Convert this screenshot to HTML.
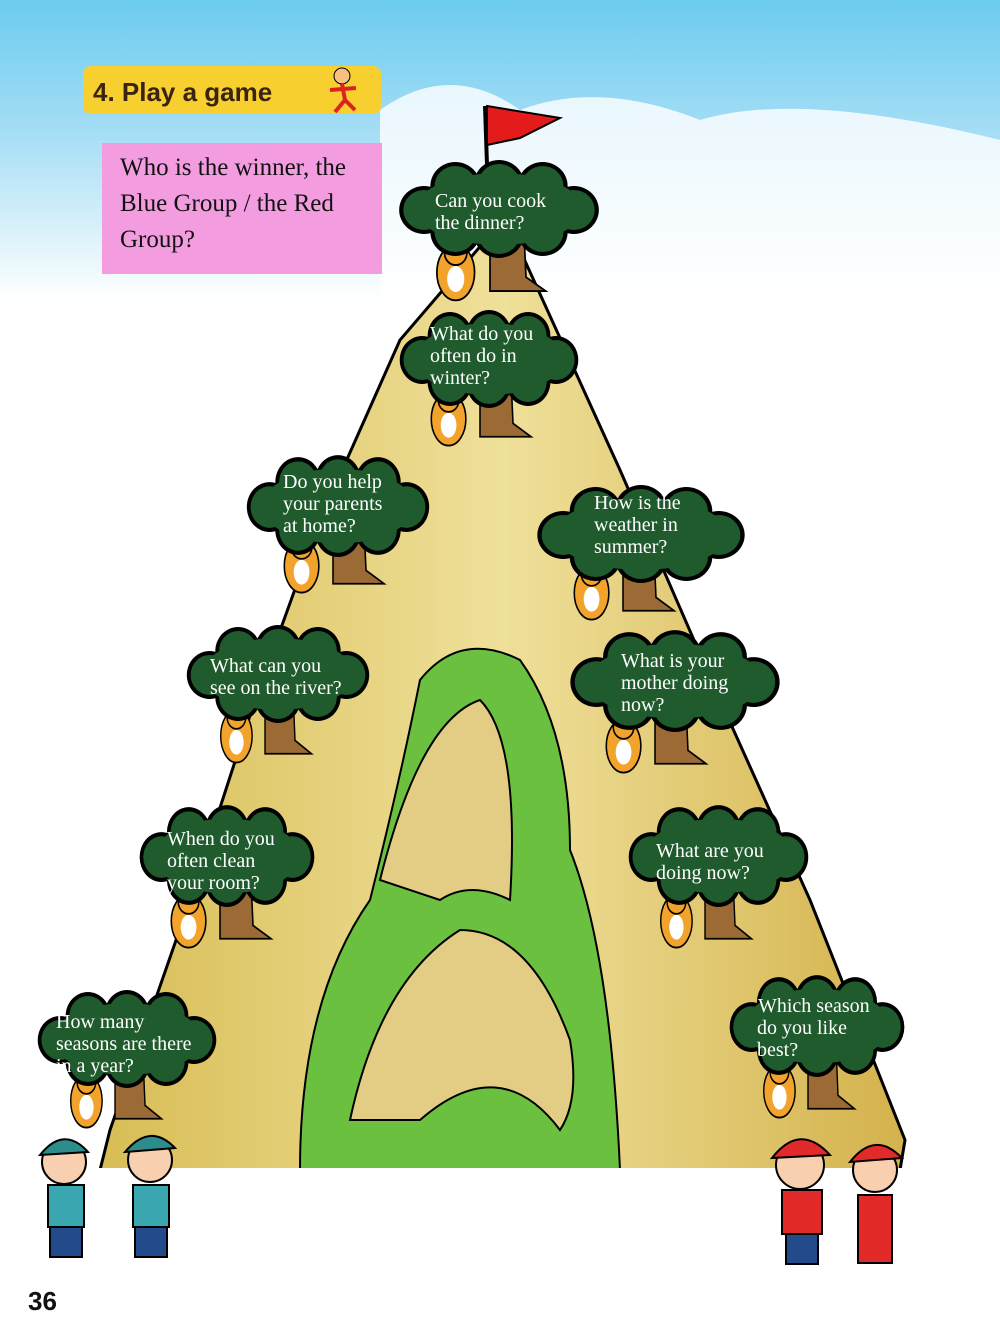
<!DOCTYPE html>
<html><head><meta charset="utf-8"><style>
body{margin:0;width:1000px;height:1336px;overflow:hidden;background:#fff;font-family:"Liberation Serif",serif}
svg{position:absolute;left:0;top:0}
.t{fill:#fff;font-family:"Liberation Serif",serif;font-size:20px}
</style></head><body>
<svg width="1000" height="1336" viewBox="0 0 1000 1336">
<defs>
<linearGradient id="sky" x1="0" y1="0" x2="0" y2="1">
<stop offset="0" stop-color="#6ccbef"/><stop offset="0.45" stop-color="#a6def5"/><stop offset="1" stop-color="#fff"/>
</linearGradient>
<linearGradient id="mt" x1="0" y1="0" x2="1" y2="0">
<stop offset="0" stop-color="#d8bd55"/><stop offset="0.5" stop-color="#efe09a"/><stop offset="1" stop-color="#d4b24c"/>
</linearGradient>
<symbol id="cl" viewBox="0 0 200 100" preserveAspectRatio="none">
<g fill="#000">
<circle cx="28" cy="52" r="24"/><circle cx="58" cy="28" r="24"/><circle cx="100" cy="26" r="24"/><circle cx="142" cy="28" r="24"/><circle cx="172" cy="52" r="24"/><circle cx="142" cy="74" r="24"/><circle cx="100" cy="76" r="24"/><circle cx="58" cy="74" r="24"/></g>
<g fill="#1f5b2c">
<circle cx="28" cy="52" r="20"/><circle cx="58" cy="28" r="20"/><circle cx="100" cy="26" r="20"/><circle cx="142" cy="28" r="20"/><circle cx="172" cy="52" r="20"/><circle cx="142" cy="74" r="20"/><circle cx="100" cy="76" r="20"/><circle cx="58" cy="74" r="20"/><ellipse cx="100" cy="51" rx="80" ry="36"/></g>
</symbol>
<symbol id="tg" viewBox="0 0 140 70" preserveAspectRatio="none">
<path d="M70 0 L110 0 L112 40 L135 55 L70 55 Z" fill="#9c6a35" stroke="#000" stroke-width="2"/>
<ellipse cx="30" cy="35" rx="22" ry="30" fill="#f2a32c" stroke="#000" stroke-width="2"/>
<ellipse cx="30" cy="42" rx="10" ry="14" fill="#fff"/>
<circle cx="30" cy="14" r="13" fill="#f2a32c" stroke="#000" stroke-width="2"/>
</symbol>
</defs>
<rect width="1000" height="300" fill="url(#sky)"/>
<path d="M380 110 Q450 60 520 110 Q600 80 700 120 Q800 90 1000 140 L1000 300 L380 300Z" fill="#fff" opacity="0.8"/>
<polygon points="490,235 520,250 620,470 720,700 810,900 905,1140 900,1170 100,1170 110,1130 190,900 255,700 320,520 400,340" fill="url(#mt)" stroke="#000" stroke-width="3"/>
<path d="M300 1170 Q300 1000 370 900 Q400 780 420 680 Q460 630 520 660 Q570 730 570 850 Q610 950 620 1170Z" fill="#6cc040" stroke="#000" stroke-width="2"/>
<path d="M380 880 Q420 720 480 700 Q520 740 510 900 Q470 880 440 900Z" fill="#e3cd84" stroke="#000" stroke-width="2"/>
<path d="M350 1120 Q380 980 460 930 Q530 930 570 1040 Q580 1100 560 1130 Q500 1050 420 1120Z" fill="#e3cd84" stroke="#000" stroke-width="2"/>
<rect x="95" y="1168" width="810" height="6" fill="#fff"/>
<rect x="83" y="66" width="298" height="48" rx="8" fill="#f7d030"/>
<text x="93" y="101" font-family="Liberation Sans" font-weight="bold" font-size="26" fill="#3a2410">4. Play a game</text>
<circle cx="342" cy="76" r="8" fill="#f6c080" stroke="#000"/><path d="M342 84 L345 100 L335 112 M345 100 L355 110 M330 90 L356 88" stroke="#d22" stroke-width="4" fill="none"/>
<rect x="102" y="143" width="280" height="131" fill="#f39ce0"/>
<text font-size="25" fill="#111"><tspan x="120" y="175">Who is the winner, the</tspan><tspan x="120" y="211">Blue Group / the Red</tspan><tspan x="120" y="247">Group?</tspan></text>
<line x1="485" y1="106" x2="487" y2="165" stroke="#000" stroke-width="4"/>
<path d="M487 106 L560 118 L520 138 L487 145Z" fill="#e31b1b" stroke="#000" stroke-width="2"/>
<use href="#tg" x="430" y="240" width="120" height="65"/>
<use href="#cl" x="395" y="158" width="208" height="100"/>
<text class="t"><tspan x="435" y="207">Can you cook</tspan><tspan x="435" y="229">the dinner?</tspan></text>
<use href="#tg" x="425" y="388" width="110" height="62"/>
<use href="#cl" x="396" y="308" width="186" height="100"/>
<text class="t"><tspan x="430" y="340">What do you</tspan><tspan x="430" y="362">often do in</tspan><tspan x="430" y="384">winter?</tspan></text>
<use href="#tg" x="278" y="535" width="110" height="62"/>
<use href="#cl" x="243" y="453" width="190" height="104"/>
<text class="t"><tspan x="283" y="488">Do you help</tspan><tspan x="283" y="510">your parents</tspan><tspan x="283" y="532">at home?</tspan></text>
<use href="#tg" x="568" y="562" width="110" height="62"/>
<use href="#cl" x="533" y="483" width="216" height="100"/>
<text class="t"><tspan x="594" y="509">How is the</tspan><tspan x="594" y="531">weather in</tspan><tspan x="594" y="553">summer?</tspan></text>
<use href="#tg" x="215" y="705" width="100" height="62"/>
<use href="#cl" x="183" y="623" width="190" height="100"/>
<text class="t"><tspan x="210" y="672">What can you</tspan><tspan x="210" y="694">see on the river?</tspan></text>
<use href="#tg" x="600" y="715" width="110" height="62"/>
<use href="#cl" x="566" y="628" width="218" height="104"/>
<text class="t"><tspan x="621" y="667">What is your</tspan><tspan x="621" y="689">mother doing</tspan><tspan x="621" y="711">now?</tspan></text>
<use href="#tg" x="165" y="890" width="110" height="62"/>
<use href="#cl" x="136" y="803" width="182" height="104"/>
<text class="t"><tspan x="167" y="845">When do you</tspan><tspan x="167" y="867">often clean</tspan><tspan x="167" y="889">your room?</tspan></text>
<use href="#tg" x="655" y="890" width="100" height="62"/>
<use href="#cl" x="625" y="803" width="187" height="104"/>
<text class="t"><tspan x="656" y="857">What are you</tspan><tspan x="656" y="879">doing now?</tspan></text>
<use href="#tg" x="65" y="1070" width="100" height="62"/>
<use href="#cl" x="34" y="988" width="186" height="100"/>
<text class="t"><tspan x="56" y="1028">How many</tspan><tspan x="56" y="1050">seasons are there</tspan><tspan x="56" y="1072">in a year?</tspan></text>
<use href="#tg" x="758" y="1060" width="100" height="62"/>
<use href="#cl" x="726" y="973" width="182" height="104"/>
<text class="t"><tspan x="758" y="1012">Which season</tspan><tspan x="757" y="1034">do you like</tspan><tspan x="757" y="1056">best?</tspan></text>
<g stroke="#000" stroke-width="2">
<rect x="48" y="1185" width="36" height="42" fill="#3aa6b0"/><rect x="50" y="1227" width="32" height="30" fill="#234a8a"/><circle cx="64" cy="1162" r="22" fill="#f8d0b0"/><path d="M40 1155 Q64 1125 88 1152Z" fill="#2d8c8c"/>
<rect x="133" y="1185" width="36" height="42" fill="#3aa6b0"/><rect x="135" y="1227" width="32" height="30" fill="#234a8a"/><circle cx="150" cy="1160" r="22" fill="#f8d0b0"/><path d="M125 1152 Q150 1122 175 1148Z" fill="#2d8c8c"/>
<rect x="782" y="1190" width="40" height="44" fill="#e22a2a"/><rect x="786" y="1234" width="32" height="30" fill="#234a8a"/><circle cx="800" cy="1165" r="24" fill="#f8d0b0"/><path d="M772 1158 Q800 1122 830 1155Z" fill="#e22a2a"/>
<rect x="858" y="1195" width="34" height="68" fill="#e22a2a"/><circle cx="875" cy="1170" r="22" fill="#f8d0b0"/><path d="M850 1162 Q875 1130 902 1158Z" fill="#e22a2a"/>
</g>
<text x="28" y="1310" font-family="Liberation Sans" font-weight="bold" font-size="26" fill="#111">36</text>
</svg>
</body></html>
